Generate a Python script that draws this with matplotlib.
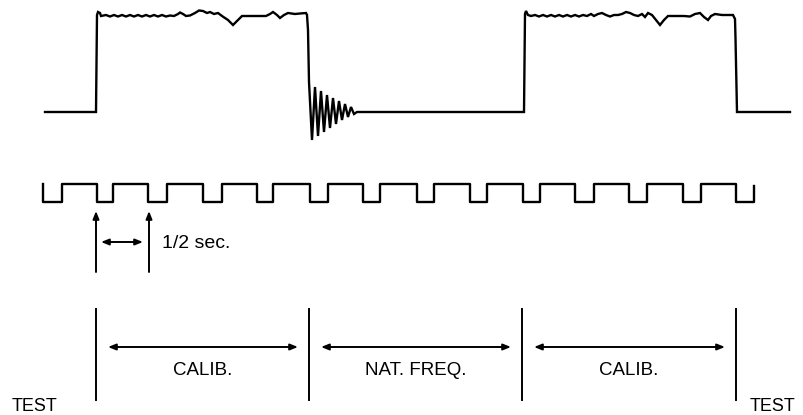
import numpy as np
import matplotlib
matplotlib.use("Agg")
import matplotlib.pyplot as plt

plt.rcParams["font.family"] = ["Liberation Sans", "DejaVu Sans"]

# response trace (x in px time units, y in px, top = 0)
trace_x = [45, 96, 97, 98, 100, 101, 106, 110, 114, 118, 122, 126, 130, 134, 138,
           142, 146, 150, 154, 158, 162, 166, 170, 174, 178, 180, 183, 186, 190,
           195, 199, 203, 207, 210, 214, 218, 222, 228, 233, 238, 242, 250, 258,
           266, 270, 273, 277, 280, 284, 288, 295, 300, 306, 307, 308,
           309, 312, 315, 318, 321, 324, 327, 330, 333, 336, 339, 342, 345, 348,
           351, 354, 357,
           524, 525, 526, 528, 531, 535, 539, 543, 547, 551, 555, 559, 563, 567,
           571, 575, 579, 583, 587, 591, 594, 598, 602, 606, 610, 614, 618, 622,
           626, 630, 634, 638, 642, 645, 648, 652, 656, 660, 664, 668, 676, 684,
           690, 695, 700, 704, 708, 711, 715, 722, 733, 735, 735.5, 737, 790]
trace_y = [112, 112, 15, 12, 13, 16, 15, 16.5, 15, 16.5, 15, 16.5, 15, 16.5, 15,
           16.5, 15, 16.5, 15, 16.5, 15, 16.5, 15.5, 16, 14, 12.5, 14, 16, 15.5,
           13, 10.5, 11, 13, 12, 14, 13, 16, 20, 25, 20, 16, 16, 16,
           16, 14, 12, 15, 18, 15, 13, 14, 13.5, 13, 15, 30,
           82, 140, 87, 136, 91, 132, 95, 128, 98, 124, 101, 120, 104, 117,
           107, 114, 112,
           112, 14, 11, 15, 16, 15, 16.5, 15, 16.5, 15, 16.5, 15, 16.5, 15,
           16.5, 15, 16.5, 15, 16, 14, 16, 14, 13, 15, 16.5, 15, 15, 14,
           12, 13, 15, 16, 14, 17, 13, 15, 20, 25, 20, 16, 16, 16,
           16.5, 14, 13, 17, 20, 16, 14, 15, 15, 19, 38, 112, 112]

# timing clock (half-second marks)
clock_high, clock_low = 184, 202
clock_low_start = [43, 97, 148, 203, 257, 310, 363, 417, 470, 523, 575, 629, 683, 736]
clock_low_end = [62, 113, 167, 222, 273, 328, 380, 434, 487, 540, 594, 647, 701, 754]

# test phases
boundaries = [96, 309, 522, 736]
phase_labels = ["CALIB.", "NAT. FREQ.", "CALIB."]

fig = plt.figure(figsize=(8.04, 4.15), dpi=100)
ax = fig.add_axes([0, 0, 1, 1])
ax.set_xlim(0, 804)
ax.set_ylim(415, 0)
ax.axis("off")

ax.plot(trace_x, trace_y, color="black", lw=1.7, solid_joinstyle="miter")

# square wave
cx, cy = [], []
for s, e in zip(clock_low_start, clock_low_end):
    cx += [s, s, e, e]
    cy += [clock_high, clock_low, clock_low, clock_high]
cy[-1] = 186
ax.plot(cx, cy, color="black", lw=1.7)

# 1/2 sec marker
arrow = dict(arrowstyle="-|>,head_length=0.45,head_width=0.18", color="black",
             lw=1.4, shrinkA=0, shrinkB=0)
for x in [96, 149]:
    ax.annotate("", xy=(x, 211), xytext=(x, 272), arrowprops=arrow)
both = dict(arrowstyle="<|-|>,head_length=0.45,head_width=0.18", color="black",
            lw=1.4, shrinkA=0, shrinkB=0)
ax.annotate("", xy=(101, 242), xytext=(143, 242), arrowprops=both)
ax.text(162, 243, "1/2 sec.", fontsize=14, va="center", ha="left")

# phase bars
for x in boundaries:
    ax.plot([x, x], [309, 400], color="black", lw=1.4)
for i, lab in enumerate(phase_labels):
    a, b = boundaries[i], boundaries[i + 1]
    ax.annotate("", xy=(a + 12, 347), xytext=(b - 11, 347), arrowprops=both)
    ax.text((a + b) / 2, 370, lab, fontsize=13.5, ha="center", va="center")

ax.text(12, 406, "TEST", fontsize=13, ha="left", va="center")
ax.text(750, 406, "TEST", fontsize=13, ha="left", va="center")

fig.savefig("out.png", dpi=100)
